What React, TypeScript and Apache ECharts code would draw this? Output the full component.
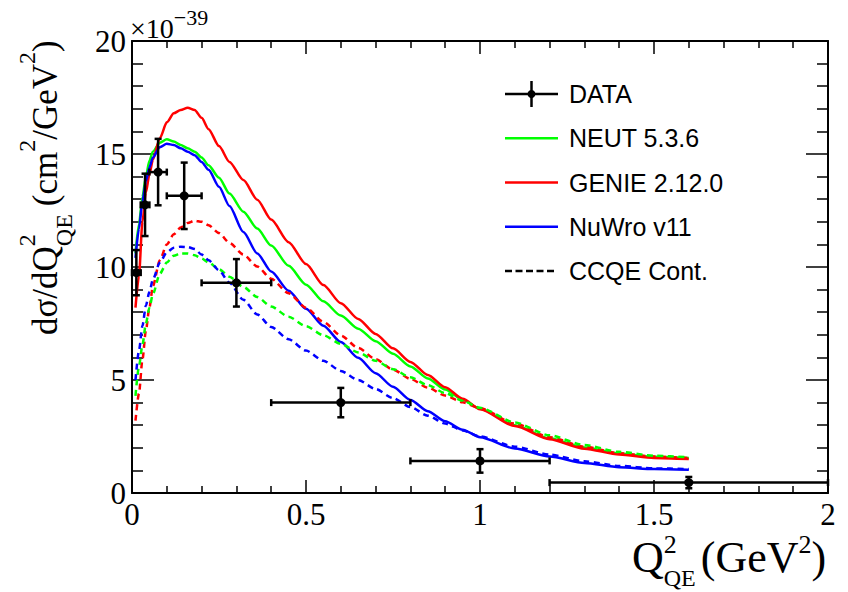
import { useEffect, useRef } from "react";
import * as echarts from "echarts";

// Q^2_QE sampling points shared by all model curves (GeV^2)
const qGrid = [
  0.01, 0.02, 0.03, 0.04, 0.05, 0.06, 0.08, 0.1, 0.12, 0.14, 0.16, 0.18, 0.2, 0.22, 0.25, 0.28, 0.32, 0.36, 0.4,
  0.45, 0.5, 0.55, 0.6, 0.65, 0.7, 0.75, 0.8, 0.85, 0.9, 0.95, 1.0, 1.1, 1.2, 1.3, 1.4, 1.5, 1.6,
];

// Total predictions, in units of 1e-39 cm^2/GeV^2
const neutTotal = [
  10.6, 11.9, 13.1, 14.0, 14.7, 15.1, 15.5, 15.65, 15.55, 15.4, 15.25, 15.1, 14.85, 14.5, 13.95, 13.25, 12.45, 11.7,
  10.95, 10.05, 9.22, 8.48, 7.85, 7.27, 6.72, 6.16, 5.6, 5.07, 4.58, 4.13, 3.73, 3.0, 2.42, 2.01, 1.75, 1.6, 1.55,
];
const genieTotal = [
  8.2, 9.6, 12.0, 13.3, 14.1, 14.75, 15.7, 16.4, 16.8, 16.95, 17.05, 16.95, 16.6, 16.1, 15.35, 14.65, 13.85, 12.98,
  12.1, 11.1, 10.13, 9.2, 8.4, 7.7, 7.04, 6.4, 5.8, 5.22, 4.68, 4.17, 3.71, 2.96, 2.38, 1.96, 1.7, 1.55, 1.5,
];
const nuwroTotal = [
  10.4, 11.7, 12.9, 13.8, 14.4, 14.85, 15.3, 15.45, 15.4, 15.25, 15.1, 14.95, 14.65, 14.3, 13.55, 12.7, 11.55, 10.6,
  9.8, 8.95, 8.15, 7.4, 6.68, 5.98, 5.3, 4.7, 4.12, 3.62, 3.18, 2.8, 2.47, 1.97, 1.62, 1.33, 1.14, 1.06, 1.03,
];

// CCQE contributions
const neutCCQE = [
  4.3, 5.6, 6.55, 7.5, 8.2, 8.8, 9.7, 10.2, 10.5, 10.6, 10.6, 10.52, 10.38, 10.2, 9.9, 9.57, 9.12, 8.67, 8.25, 7.8,
  7.38, 6.98, 6.6, 6.22, 5.85, 5.48, 5.12, 4.77, 4.42, 4.08, 3.77, 3.12, 2.55, 2.12, 1.82, 1.65, 1.58,
];
const genieCCQE = [
  3.2, 4.4, 5.9, 7.2, 8.2, 9.15, 10.3, 11.0, 11.45, 11.75, 11.95, 12.05, 12.0, 11.85, 11.5, 11.07, 10.55, 10.02,
  9.48, 8.84, 8.2, 7.57, 6.97, 6.42, 5.92, 5.46, 5.05, 4.66, 4.31, 4.01, 3.75, 3.07, 2.47, 2.05, 1.76, 1.61, 1.55,
];
const nuwroCCQE = [
  5.0, 6.3, 7.4, 8.3, 8.9, 9.45, 10.2, 10.65, 10.85, 10.9, 10.88, 10.8, 10.55, 10.3, 9.85, 9.3, 8.55, 7.9, 7.35,
  6.8, 6.3, 5.85, 5.4, 5.0, 4.6, 4.2, 3.8, 3.42, 3.07, 2.77, 2.5, 2.05, 1.7, 1.4, 1.2, 1.09, 1.06,
];

// Measured points: bin centre, bin edges, cross section and its uncertainty
const dataQ = [0.0125, 0.0375, 0.075, 0.15, 0.3, 0.6, 1.0, 1.6];
const dataQLo = [0, 0.025, 0.05, 0.1, 0.2, 0.4, 0.8, 1.2];
const dataQHi = [0.025, 0.05, 0.1, 0.2, 0.4, 0.8, 1.2, 2.0];
const dataXsec = [9.75, 12.75, 14.2, 13.15, 9.3, 4.0, 1.42, 0.46];
const dataErr = [1.0, 1.38, 1.47, 1.47, 1.05, 0.65, 0.52, 0.25];

const legendNames = ["DATA", "NEUT 5.3.6", "GENIE 2.12.0", "NuWro v11", "CCQE Cont."];

const xTicks = { min: 0, max: 2, interval: 0.5 };
const yTicks = { min: 0, max: 20, interval: 5 };

const GREEN = "#00ff00";
const RED = "#ff0000";
const BLUE = "#0000ff";
const SERIF = '"Liberation Serif", "Times New Roman", serif';
const SANS = '"Liberation Sans", Arial, sans-serif';

let measureCtx: CanvasRenderingContext2D | null = null;
function textWidth(s: string, size: number, family = SERIF): number {
  if (!measureCtx) measureCtx = document.createElement("canvas").getContext("2d");
  if (!measureCtx) return s.length * size * 0.5;
  measureCtx.font = `${size}px ${family}`;
  return measureCtx.measureText(s).width;
}

type Piece = {
  t?: string;
  size?: number;
  rise?: number;
  sup?: { t: string; size: number; rise: number };
  sub?: { t: string; size: number; drop: number };
  gap?: number;
};

// Lay out a ROOT-style formula (stacked super/subscripts) along a baseline.
function layoutFormula(pieces: Piece[], u0: number, base: number) {
  const els: any[] = [];
  let u = u0;
  const put = (t: string, size: number, baseline: number, x: number) => {
    els.push({
      type: "text",
      x,
      y: baseline - 0.3375 * size,
      silent: true,
      style: {
        text: t,
        fontSize: size,
        fontFamily: SERIF,
        fill: "#000",
        align: "left",
        verticalAlign: "middle",
        textAlign: "left",
        textVerticalAlign: "middle",
      },
    });
    return textWidth(t, size);
  };
  for (const p of pieces) {
    if (p.gap) {
      u += p.gap;
      continue;
    }
    if (p.sup || p.sub) {
      let w = 0;
      if (p.sup) w = Math.max(w, put(p.sup.t, p.sup.size, base - p.sup.rise, u));
      if (p.sub) w = Math.max(w, put(p.sub.t, p.sub.size, base + p.sub.drop, u));
      u += w;
      continue;
    }
    if (p.t && p.size) u += put(p.t, p.size, base - (p.rise || 0), u);
  }
  return els;
}

function lineData(values: number[]) {
  return qGrid.map((q, i) => [q, values[i]]);
}

function curve(name: string, values: number[], color: string, dashed: boolean) {
  return {
    name,
    type: "line",
    data: lineData(values),
    showSymbol: false,
    symbol: "none",
    smooth: 0.25,
    smoothMonotone: "x",
    silent: true,
    lineStyle: { color, width: 2.5, type: dashed ? [6, 4.5] : "solid" },
    z: dashed ? 3 : 2,
  };
}

export default function App() {
  const ref = useRef<HTMLDivElement>(null);

  useEffect(() => {
    if (!ref.current) return;
    const chart = echarts.init(ref.current, undefined, { renderer: "svg" });

    const axisLine = { show: true, onZero: false, lineStyle: { color: "#000", width: 2 } };
    const tickLine = { color: "#000", width: 1.5 };
    const labelStyle = { fontFamily: SERIF, fontSize: 31, color: "#000" };

    const xBase = {
      type: "value",
      ...xTicks,
      axisLine,
      splitLine: { show: false },
      axisTick: { show: true, inside: true, length: 13, lineStyle: tickLine },
      minorTick: { show: true, splitNumber: 5, length: 7, lineStyle: tickLine },
    };
    const yBase = {
      type: "value",
      ...yTicks,
      axisLine,
      splitLine: { show: false },
      axisTick: { show: true, inside: true, length: 22, lineStyle: tickLine },
      minorTick: { show: true, splitNumber: 5, length: 11, lineStyle: tickLine },
    };

    // Legend drawn by hand so that the DATA entry shows an error-bar marker
    const legendEls: any[] = [];
    const lgX0 = 505;
    const lgX1 = 558;
    const lgText = 569;
    const lgY0 = 94;
    const lgStep = 44.25;
    const legendStyles = [
      { color: "#000", kind: "data" },
      { color: GREEN, kind: "line" },
      { color: RED, kind: "line" },
      { color: BLUE, kind: "line" },
      { color: "#000", kind: "dash" },
    ];
    legendNames.forEach((name, i) => {
      const y = lgY0 + i * lgStep;
      const st = legendStyles[i];
      legendEls.push({
        type: "line",
        silent: true,
        shape: { x1: lgX0, y1: y, x2: st.kind === "dash" ? lgX1 - 4 : lgX1, y2: y },
        style: { stroke: st.color, lineWidth: 2.5, lineDash: st.kind === "dash" ? [7, 3.5] : null },
      });
      if (st.kind === "data") {
        const cx = (lgX0 + lgX1) / 2;
        legendEls.push({
          type: "line",
          silent: true,
          shape: { x1: cx, y1: y - 13, x2: cx, y2: y + 13 },
          style: { stroke: "#000", lineWidth: 2.5 },
        });
        legendEls.push({ type: "circle", silent: true, shape: { cx, cy: y, r: 4 }, style: { fill: "#000" } });
      }
      legendEls.push({
        type: "text",
        x: lgText,
        y,
        silent: true,
        style: {
          text: name,
          fontSize: 25,
          fontFamily: SANS,
          fill: "#000",
          align: "left",
          verticalAlign: "middle",
          textAlign: "left",
          textVerticalAlign: "middle",
        },
      });
    });

    // Axis titles
    const xTitle = layoutFormula(
      [
        { t: "Q", size: 44 },
        { sup: { t: "2", size: 26, rise: 19 }, sub: { t: "QE", size: 24, drop: 14 } },
        { gap: 5 },
        { t: "(GeV", size: 44 },
        { sup: { t: "2", size: 26, rise: 19 } },
        { t: ")", size: 44 },
      ],
      632,
      572
    );
    const yTitlePieces = layoutFormula(
      [
        { t: "dσ/dQ", size: 35 },
        { sup: { t: "2", size: 24, rise: 22 }, sub: { t: "QE", size: 24, drop: 15 } },
        { gap: 8 },
        { t: "(cm", size: 35 },
        { sup: { t: "2", size: 24, rise: 22 } },
        { t: "/GeV", size: 35 },
        { sup: { t: "2", size: 24, rise: 22 } },
        { t: ")", size: 35 },
      ],
      0,
      0
    );
    const exponent = layoutFormula(
      [
        { t: "×10", size: 28 },
        { t: "−39", size: 22, rise: 13 },
      ],
      130,
      38
    );

    const option: any = {
      animation: false,
      grid: { left: 132, right: 20, top: 41, bottom: 99, containLabel: false },
      xAxis: [
        {
          ...xBase,
          position: "bottom",
          axisLabel: { ...labelStyle, margin: 6, showMinLabel: true, showMaxLabel: true },
        },
        { ...xBase, position: "top", axisLabel: { show: false } },
      ],
      yAxis: [
        {
          ...yBase,
          position: "left",
          axisLabel: { ...labelStyle, margin: 6, showMinLabel: true, showMaxLabel: true },
        },
        { ...yBase, position: "right", axisLabel: { show: false } },
      ],
      series: [
        curve("NEUT 5.3.6", neutTotal, GREEN, false),
        curve("GENIE 2.12.0", genieTotal, RED, false),
        curve("NuWro v11", nuwroTotal, BLUE, false),
        curve("GENIE CCQE", genieCCQE, RED, true),
        curve("NEUT CCQE", neutCCQE, GREEN, true),
        curve("NuWro CCQE", nuwroCCQE, BLUE, true),
        {
          name: "DATA",
          type: "custom",
          silent: true,
          z: 10,
          data: dataQ.map((q, i) => [q, dataXsec[i], dataQLo[i], dataQHi[i], dataErr[i]]),
          encode: { x: [0, 2, 3], y: 1 },
          renderItem: (_params: any, api: any) => {
            const q = api.value(0);
            const v = api.value(1);
            const lo = api.value(2);
            const hi = api.value(3);
            const err = api.value(4);
            const c = api.coord([q, v]);
            const l = api.coord([lo, v]);
            const r = api.coord([hi, v]);
            const top = api.coord([q, v + err]);
            const bot = api.coord([q, v - err]);
            const style = { stroke: "#000", lineWidth: 2.5 };
            const cap = 3.5;
            return {
              type: "group",
              children: [
                { type: "line", shape: { x1: l[0], y1: c[1], x2: r[0], y2: c[1] }, style },
                { type: "line", shape: { x1: l[0], y1: c[1] - cap, x2: l[0], y2: c[1] + cap }, style },
                { type: "line", shape: { x1: r[0], y1: c[1] - cap, x2: r[0], y2: c[1] + cap }, style },
                { type: "line", shape: { x1: c[0], y1: top[1], x2: c[0], y2: bot[1] }, style },
                { type: "line", shape: { x1: c[0] - cap, y1: top[1], x2: c[0] + cap, y2: top[1] }, style },
                { type: "line", shape: { x1: c[0] - cap, y1: bot[1], x2: c[0] + cap, y2: bot[1] }, style },
                { type: "circle", shape: { cx: c[0], cy: c[1], r: 4.5 }, style: { fill: "#000" } },
              ],
            };
          },
        },
      ],
      graphic: [
        ...legendEls,
        ...xTitle,
        ...exponent,
        { type: "group", x: 57, y: 335, rotation: Math.PI / 2, children: yTitlePieces },
      ],
    };

    chart.setOption(option);
    return () => chart.dispose();
  }, []);

  return (
    <div
      ref={ref}
      style={{ position: "fixed", left: 0, top: 0, width: 848, height: 592, background: "#fff" }}
    />
  );
}
